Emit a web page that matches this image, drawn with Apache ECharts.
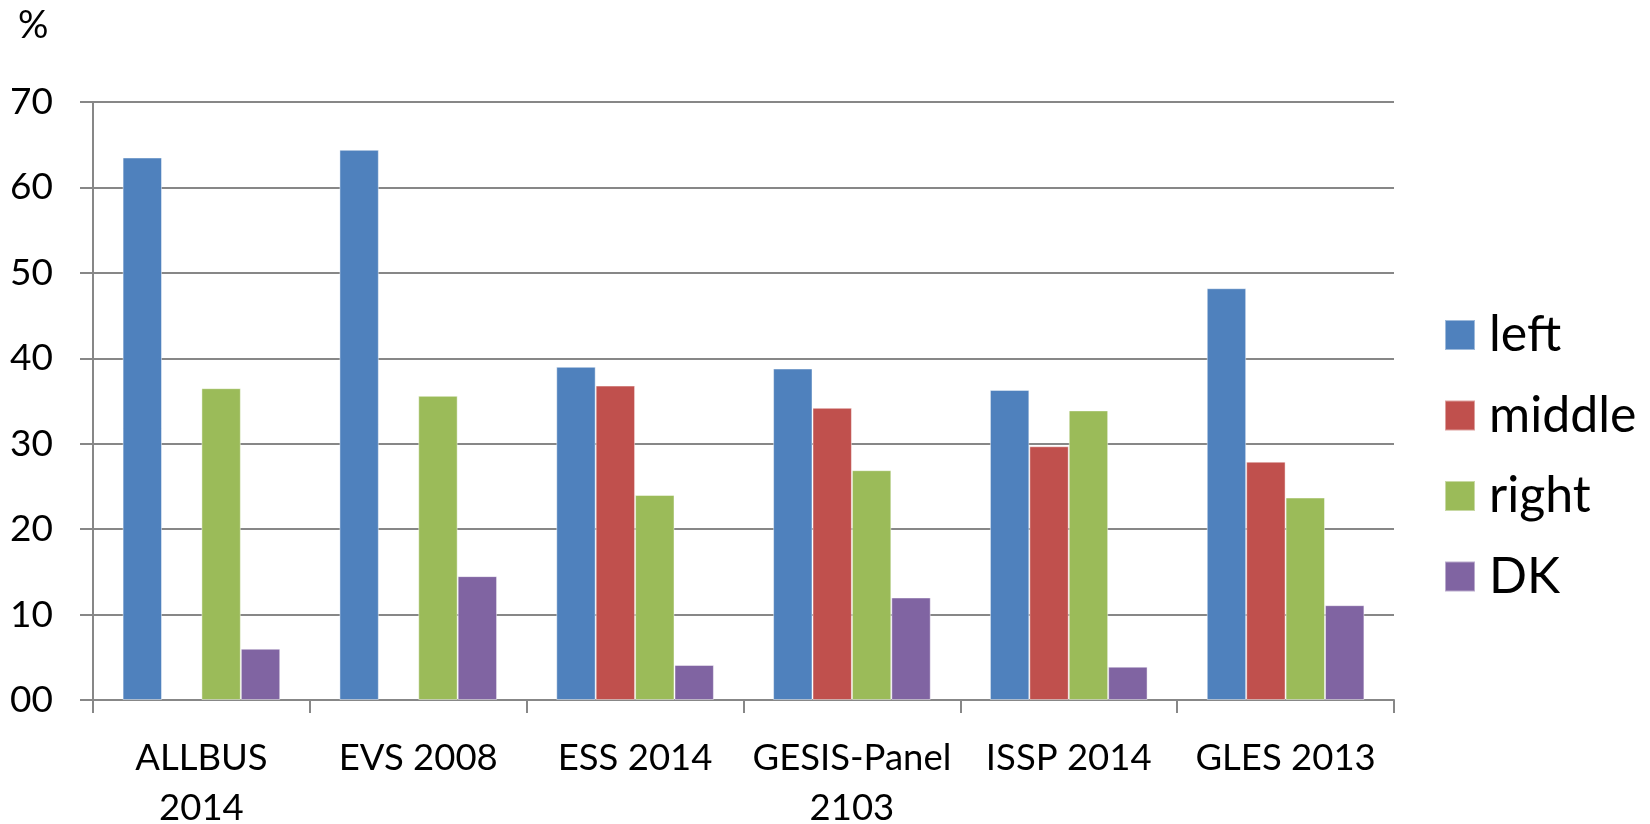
<!DOCTYPE html>
<html>
<head>
<meta charset="utf-8">
<title>left / middle / right</title>
<script src="https://cdn.jsdelivr.net/npm/echarts@6/dist/echarts.min.js"></script>
<style>
  html, body { margin: 0; padding: 0; background: #fff; }
  #main { width: 1650px; height: 824px; }
</style>
</head>
<body>
<div id="main"></div>
<script>
// categories (surveys)
const surveys = ['ALLBUS\n2014', 'EVS 2008', 'ESS 2014', 'GESIS-Panel\n2103', 'ISSP 2014', 'GLES 2013']
// series values, %
const leftVals = [63.5, 64.4, 39.0, 38.8, 36.3, 48.2]
const middleVals = ['-', '-', 36.8, 34.2, 29.7, 27.9]
const rightVals = [36.5, 35.6, 24.0, 26.9, 33.9, 23.7]
const dkVals = [6.0, 14.5, 4.1, 12.0, 3.9, 11.1]
const seriesNames = ['left', 'middle', 'right', 'DK']
const colors = ['#4F81BD', '#C0504D', '#9BBB59', '#8064A2']

const chart = echarts.init(document.getElementById('main'))

const font = 'Lato, "Noto Sans", sans-serif'
const axisGray = '#878787'

function makeBar(name, data, i) {
  return {
    name: name,
    type: 'bar',
    data: data,
    barGap: '0%',
    barCategoryGap: '27.3%',
    itemStyle: {
      color: colors[i],
      borderColor: 'rgba(255,255,255,0.45)',
      borderWidth: 1
    },
    emphasis: { disabled: true }
  }
}

const option = {
  animation: false,
  backgroundColor: '#fff',
  color: colors,
  title: {
    text: '%',
    left: 13,
    top: 2,
    textStyle: { fontFamily: font, fontSize: 38, fontWeight: 'normal', color: '#000' }
  },
  legend: {
    orient: 'vertical',
    left: 1439,
    top: 305,
    icon: 'rect',
    itemWidth: 30,
    itemHeight: 30,
    itemGap: 30.5,
    data: seriesNames,
    textStyle: {
      fontFamily: font,
      fontSize: 50,
      color: '#000',
      padding: [0, 0, 0, 9]
    }
  },
  grid: {
    left: 93,
    right: 256,
    top: 102,
    bottom: 124,
    containLabel: false,
    outerBoundsMode: 'none'
  },
  xAxis: {
    type: 'category',
    data: surveys,
    axisLine: { show: true, lineStyle: { color: axisGray, width: 2 } },
    axisTick: { show: true, length: 13, lineStyle: { color: axisGray, width: 2 } },
    axisLabel: {
      interval: 0,
      margin: 33,
      fontFamily: font,
      fontSize: 36.5,
      lineHeight: 50,
      color: '#000'
    },
    splitLine: { show: false }
  },
  yAxis: {
    type: 'value',
    min: 0,
    max: 70,
    interval: 10,
    axisLine: { show: true, lineStyle: { color: axisGray, width: 2 } },
    axisTick: { show: true, length: 13, lineStyle: { color: axisGray, width: 2 } },
    axisLabel: {
      margin: 40,
      fontFamily: font,
      fontSize: 37,
      color: '#000',
      formatter: v => (v < 10 ? '0' + v : '' + v)
    },
    splitLine: { show: true, lineStyle: { color: axisGray, width: 2 } }
  },
  series: [
    makeBar('left', leftVals, 0),
    makeBar('middle', middleVals, 1),
    makeBar('right', rightVals, 2),
    makeBar('DK', dkVals, 3)
  ]
}

chart.setOption(option)
</script>
</body>
</html>
